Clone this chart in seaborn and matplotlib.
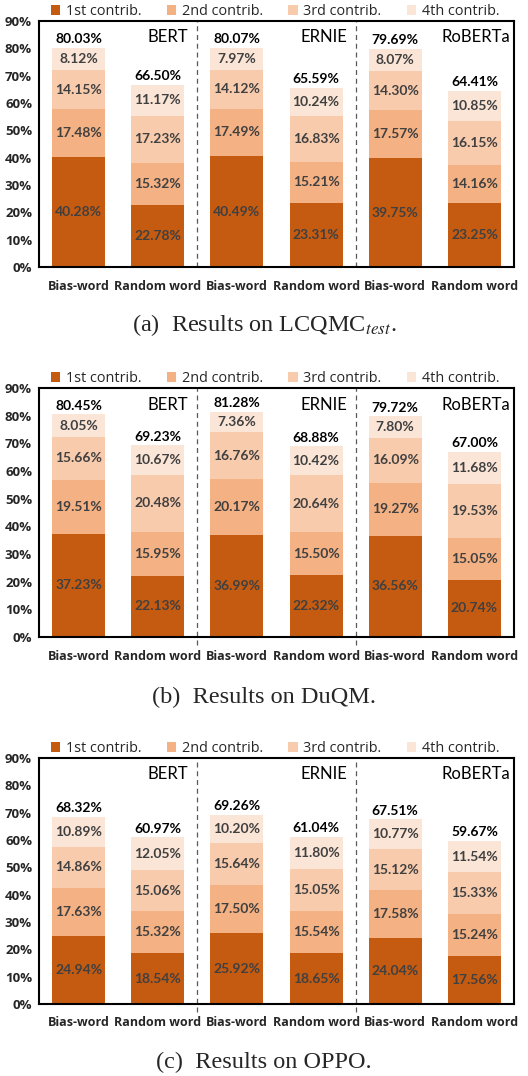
import numpy as np
import pandas as pd
import seaborn as sns
import matplotlib.pyplot as plt
from matplotlib.patches import Patch

# Data (percent)
bar_labels = ["Bias-word", "Random word", "Bias-word", "Random word", "Bias-word", "Random word"]
models = ["BERT", "ERNIE", "RoBERTa"]
legend_labels = ["1st contrib.", "2nd contrib.", "3rd contrib.", "4th contrib."]

lcqmc_c1 = [40.28, 22.78, 40.49, 23.31, 39.75, 23.25]
lcqmc_c2 = [17.48, 15.32, 17.49, 15.21, 17.57, 14.16]
lcqmc_c3 = [14.15, 17.23, 14.12, 16.83, 14.30, 16.15]
lcqmc_c4 = [8.12, 11.17, 7.97, 10.24, 8.07, 10.85]
lcqmc_total = [80.03, 66.50, 80.07, 65.59, 79.69, 64.41]

duqm_c1 = [37.23, 22.13, 36.99, 22.32, 36.56, 20.74]
duqm_c2 = [19.51, 15.95, 20.17, 15.50, 19.27, 15.05]
duqm_c3 = [15.66, 20.48, 16.76, 20.64, 16.09, 19.53]
duqm_c4 = [8.05, 10.67, 7.36, 10.42, 7.80, 11.68]
duqm_total = [80.45, 69.23, 81.28, 68.88, 79.72, 67.00]

oppo_c1 = [24.94, 18.54, 25.92, 18.65, 24.04, 17.56]
oppo_c2 = [17.63, 15.32, 17.50, 15.54, 17.58, 15.24]
oppo_c3 = [14.86, 15.06, 15.64, 15.05, 15.12, 15.33]
oppo_c4 = [10.89, 12.05, 10.20, 11.80, 10.77, 11.54]
oppo_total = [68.32, 60.97, 69.26, 61.04, 67.51, 59.67]

captions = [r"(a)  Results on LCQMC$_{test}$.", "(b)  Results on DuQM.", "(c)  Results on OPPO."]

colors = ["#C55A11", "#F4B183", "#F8CBAD", "#FBE5D6"]

sns.set_theme(style="white")
plt.rcParams["font.family"] = ["Lato", "DejaVu Sans"]
plt.rcParams["mathtext.fontset"] = "stix"

tick_font = ["Open Sans", "DejaVu Sans"]

fig = plt.figure(figsize=(5.28, 10.76), dpi=100)
W, H = 528, 1076

# (top px, bottom px, caption y px, separator reaches below axis)
panels = [
    (21, 267, 325, False, [lcqmc_c1, lcqmc_c2, lcqmc_c3, lcqmc_c4], lcqmc_total),
    (388, 637, 697, True, [duqm_c1, duqm_c2, duqm_c3, duqm_c4], duqm_total),
    (758, 1004, 1062, True, [oppo_c1, oppo_c2, oppo_c3, oppo_c4], oppo_total),
]

for k, (top, bot, cap_y, long_sep, segs, totals) in enumerate(panels):
    ax = fig.add_axes([39 / W, (H - bot) / H, 475 / W, (bot - top) / H])
    df = pd.DataFrame({"pos": range(6)})
    for i, s in enumerate(segs):
        df[f"c{i+1}"] = s
    cum = df[["c1", "c2", "c3", "c4"]].cumsum(axis=1)

    # layered cumulative bars: largest first
    for i in [3, 2, 1, 0]:
        sns.barplot(x=df["pos"], y=cum.iloc[:, i], color=colors[i], width=0.67,
                    saturation=1, ax=ax, linewidth=0, zorder=2)

    # segment labels
    for j in range(6):
        for i in range(4):
            v = segs[i][j]
            yc = cum.iloc[j, i] - v / 2
            ax.text(j, yc, f"{v:.2f}%", ha="center", va="center", fontsize=10,
                    fontweight="bold", color="#404040", zorder=3)
        ax.annotate(f"{totals[j]:.2f}%", (j, cum.iloc[j, 3]), xytext=(0, 2),
                    textcoords="offset points", ha="center", va="bottom",
                    fontsize=10, fontweight="bold", color="black", zorder=3)

    # group separators and model names
    y0 = -3 if long_sep else 0
    for xs in [1.5, 3.5]:
        ax.plot([xs, xs], [y0, 90], color="#595959", lw=0.9, ls=(0, (4, 3)),
                zorder=1, clip_on=False)
    for m, xm in zip(models, [1.38, 3.4, 5.45]):
        ax.text(xm, 84, m, ha="right", va="center", fontsize=12, color="black")

    ax.set_xlim(-0.5, 5.5)
    ax.set_ylim(0, 90)
    ax.set_yticks(np.arange(0, 91, 10))
    ax.set_yticklabels([f"{t}%" for t in range(0, 91, 10)], fontsize=9.5,
                       fontweight="bold", family=tick_font)
    ax.set_xticks(range(6))
    ax.set_xticklabels(bar_labels, fontsize=9.0, fontweight="bold", family=tick_font)
    ax.tick_params(axis="x", length=0, pad=9)
    ax.tick_params(axis="y", length=0, pad=5)
    ax.set_xlabel("")
    ax.set_ylabel("")
    for sp in ax.spines.values():
        sp.set_visible(True)
        sp.set_color("black")
        sp.set_linewidth(1.5)
        sp.set_zorder(4)

    handles = [Patch(facecolor=c, edgecolor="none") for c in colors]
    ax.legend(handles, legend_labels, loc="lower left", bbox_to_anchor=(0.02, 1.0),
              ncol=4, frameon=False, handlelength=0.65, handleheight=0.65,
              handletextpad=0.4, columnspacing=1.75, borderpad=0, borderaxespad=0.15,
              prop={"family": tick_font, "size": 10.4})

    fig.text(0.5, (H - cap_y) / H, captions[k], ha="center", va="center",
             fontsize=17.5, family=["Liberation Serif", "DejaVu Serif"])

fig.savefig("out.png", dpi=100)
